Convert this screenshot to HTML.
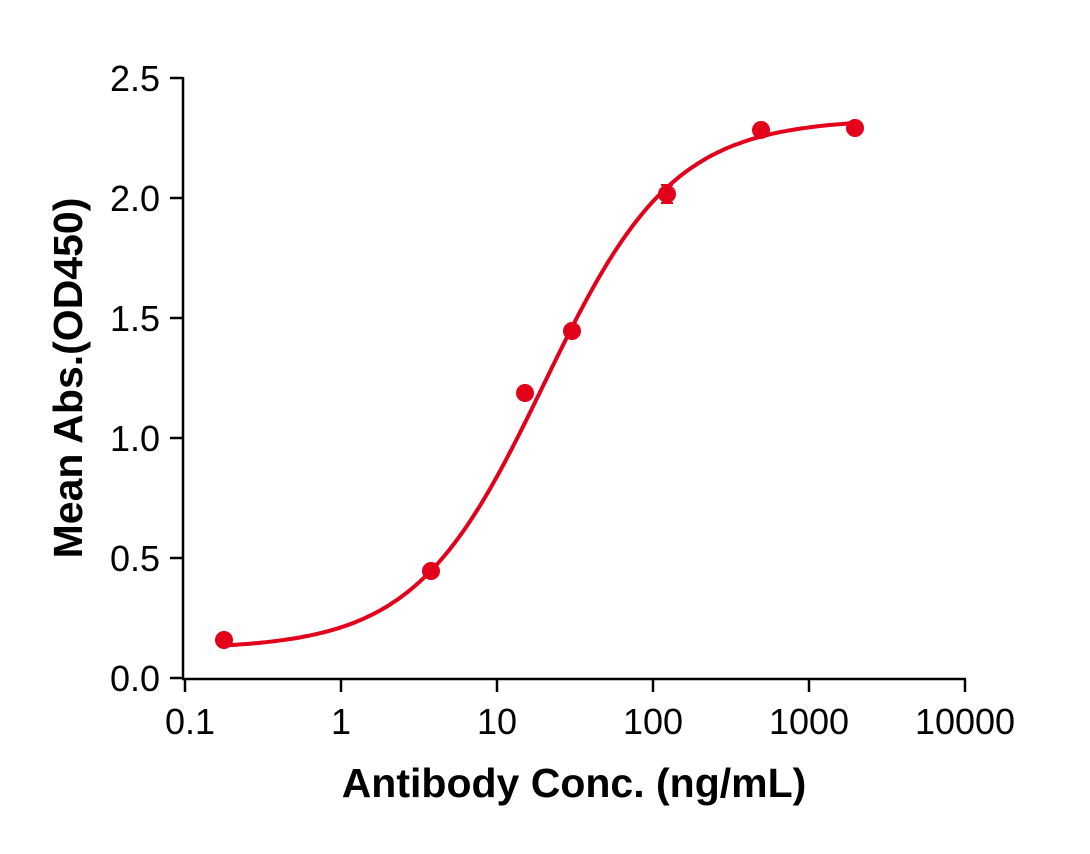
<!DOCTYPE html>
<html><head><style>
body{margin:0;background:#fff;}
svg text{font-family:"Liberation Sans",Arial,sans-serif;}
</style></head><body>
<svg id="s" width="1090" height="849" xmlns="http://www.w3.org/2000/svg">
<g stroke="#000" stroke-width="2.5" fill="none">
<line x1="183" y1="77" x2="183" y2="679"/>
<line x1="182" y1="679" x2="966" y2="679"/>
<line x1="170" y1="78" x2="183" y2="78"/>
<line x1="170" y1="198" x2="183" y2="198"/>
<line x1="170" y1="318" x2="183" y2="318"/>
<line x1="170" y1="438" x2="183" y2="438"/>
<line x1="170" y1="558" x2="183" y2="558"/>
<line x1="170" y1="678" x2="183" y2="678"/>
<line x1="185" y1="679" x2="185" y2="692"/>
<line x1="341" y1="679" x2="341" y2="692"/>
<line x1="497" y1="679" x2="497" y2="692"/>
<line x1="653" y1="679" x2="653" y2="692"/>
<line x1="809" y1="679" x2="809" y2="692"/>
<line x1="965" y1="679" x2="965" y2="692"/>
</g>
<g font-size="36" text-anchor="end" fill="#000">
<text x="160" y="91">2.5</text>
<text x="160" y="211">2.0</text>
<text x="160" y="331">1.5</text>
<text x="160" y="451">1.0</text>
<text x="160" y="571">0.5</text>
<text x="160" y="691">0.0</text>
</g>
<g font-size="36" text-anchor="middle" fill="#000">
<text x="190" y="734">0.1</text>
<text x="341" y="734">1</text>
<text x="497" y="734">10</text>
<text x="653" y="734">100</text>
<text x="809" y="734">1000</text>
<text x="965" y="734">10000</text>
</g>
<text x="574" y="797" font-size="41" font-weight="bold" text-anchor="middle">Antibody Conc. (ng/mL)</text>
<text transform="translate(82,378) rotate(-90)" font-size="41" font-weight="bold" text-anchor="middle">Mean Abs.(OD450)</text>
<path id="c" fill="none" stroke="#e2001a" stroke-width="4"/>
<g fill="#e2001a" stroke="#e2001a" stroke-width="2">
<line x1="667" y1="185" x2="667" y2="203"/><line x1="661" y1="185" x2="673" y2="185"/><line x1="661" y1="203" x2="673" y2="203"/>
<circle cx="224" cy="640" r="8"/>
<circle cx="431" cy="571" r="8"/>
<circle cx="525" cy="393" r="8"/>
<circle cx="572" cy="331" r="8"/>
<circle cx="667" cy="194" r="8"/>
<circle cx="761" cy="130" r="8"/>
<circle cx="855" cy="128" r="8"/>
</g>
<script>
var d="";for(var px=224;px<=855;px+=3){var lx=(px-185)/156-1;var x=Math.pow(10,lx);var y=0.12+2.21/(1+Math.pow(20/x,1.05));var py=678-240*y;d+=(d?"L":"M")+px+","+py.toFixed(1);}
document.getElementById("c").setAttribute("d",d);
</script>
</svg>
</body></html>
